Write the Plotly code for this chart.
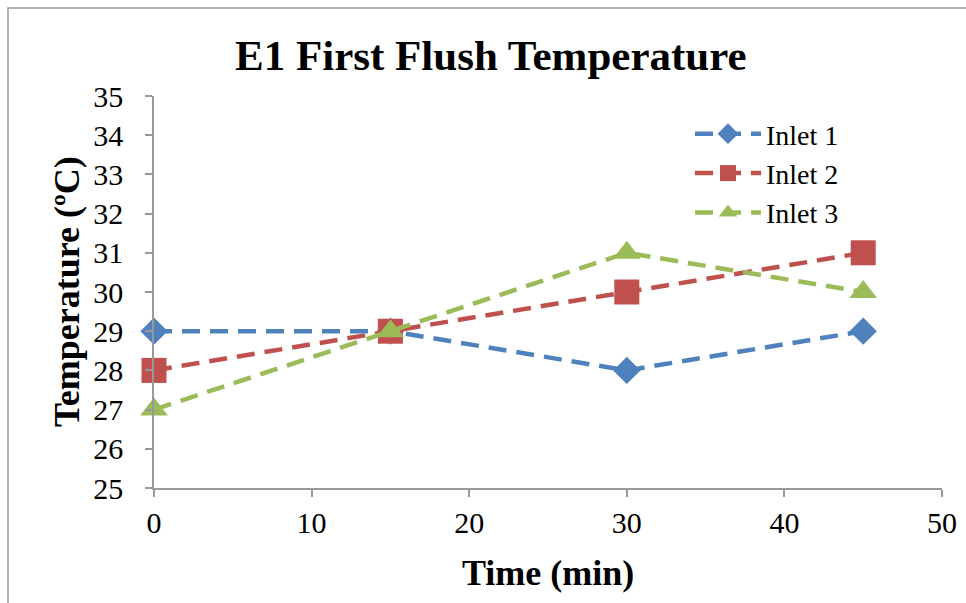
import plotly.graph_objects as go

time_min = [0, 15, 30, 45]
inlet1 = [29, 29, 28, 29]
inlet2 = [28, 29, 30, 31]
inlet3 = [27, 29, 31, 30]
series_names = ["Inlet 1", "Inlet 2", "Inlet 3"]
x_ticks = [0, 10, 20, 30, 40, 50]
y_ticks = list(range(25, 36))

FONT = "Liberation Serif, Times New Roman, serif"
colors = ["#4F81BD", "#C0504D", "#9BBB59"]
symbols = ["diamond", "square", "triangle-up"]
sizes = [21, 25, 24]

fig = go.Figure()
for name, ys, c, s, sz in zip(series_names, [inlet1, inlet2, inlet3], colors, symbols, sizes):
    fig.add_trace(go.Scatter(
        x=time_min, y=ys, name=name, mode="lines+markers",
        line=dict(color=c, width=4.5, dash="18px,10px"),
        marker=dict(color=c, symbol=s, size=sz, line=dict(width=0)),
        cliponaxis=False,
    ))

W, H = 966, 603
L, R, T, B = 154, 24, 96, 115
pw, ph = W - L - R, H - T - B

def px_x(p):
    return (p - L) / pw

def px_y(p):
    return 1 - (p - T) / ph

axis_common = dict(
    showgrid=False, zeroline=False, showline=True, linecolor="#999999", linewidth=1.5,
    ticks="outside", ticklen=7, tickcolor="#999999", tickwidth=1.5,
    tickfont=dict(family=FONT, size=30, color="black"), automargin=False,
)

fig.update_layout(
    width=W, height=H,
    margin=dict(l=L, r=R, t=T, b=B),
    paper_bgcolor="white", plot_bgcolor="white",
    font=dict(family=FONT, color="black"),
    xaxis=dict(range=[0, 50], tickvals=x_ticks, **axis_common),
    yaxis=dict(range=[25, 35], tickvals=y_ticks, ticklabelstandoff=16, **axis_common),
    showlegend=True,
    legend=dict(
        x=px_x(690), y=px_y(109), xanchor="left", yanchor="top",
        font=dict(family=FONT, size=28, color="black"),
        bgcolor="rgba(0,0,0,0)", tracegroupgap=0, itemwidth=66,
    ),
    annotations=[
        dict(text="<b>E1 First Flush Temperature</b>", x=px_x(491), y=px_y(55),
             xref="paper", yref="paper", showarrow=False, xanchor="center", yanchor="middle",
             font=dict(family=FONT, size=43, color="black")),
        dict(text="<b>Time (min)</b>", x=px_x(548), y=px_y(573),
             xref="paper", yref="paper", showarrow=False, xanchor="center", yanchor="middle",
             font=dict(family=FONT, size=36, color="black")),
        dict(text="<b>Temperature (ºC)</b>", x=px_x(67), y=px_y(292), textangle=-90,
             xref="paper", yref="paper", showarrow=False, xanchor="center", yanchor="middle",
             font=dict(family=FONT, size=36, color="black")),
    ],
    shapes=[
        dict(type="rect", xref="paper", yref="paper",
             x0=px_x(8), x1=px_x(1000), y0=px_y(700), y1=px_y(8),
             line=dict(color="#999999", width=1.5), fillcolor="rgba(0,0,0,0)", layer="below"),
    ],
)

fig.write_html("out.html")
